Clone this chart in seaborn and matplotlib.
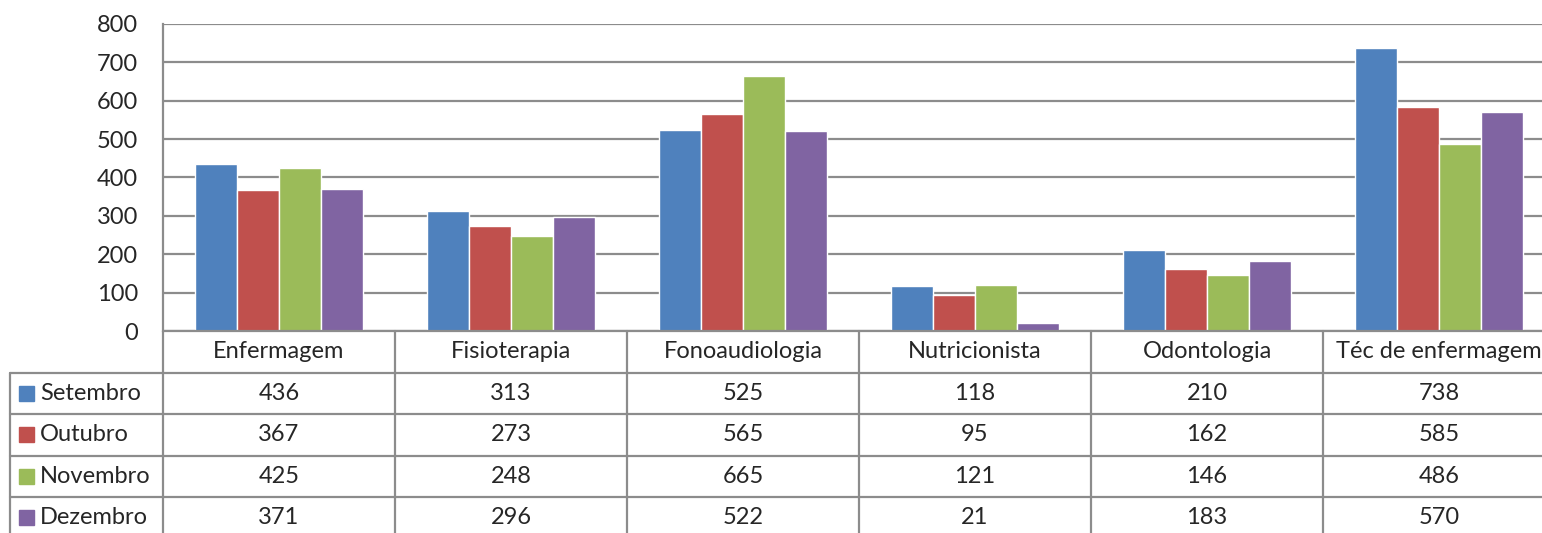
import matplotlib.pyplot as plt
import numpy as np
import pandas as pd
import seaborn as sns

# Data
categories = ["Enfermagem", "Fisioterapia", "Fonoaudiologia", "Nutricionista", "Odontologia", "Téc de enfermagem"]
months = ["Setembro", "Outubro", "Novembro", "Dezembro"]
setembro = [436, 313, 525, 118, 210, 738]
outubro = [367, 273, 565, 95, 162, 585]
novembro = [425, 248, 665, 121, 146, 486]
dezembro = [371, 296, 522, 21, 183, 570]
colors = ["#4F81BD", "#C0504D", "#9BBB59", "#8064A2"]

series = [setembro, outubro, novembro, dezembro]
df = pd.DataFrame([
    {"Categoria": c, "Mês": m, "Valor": v}
    for m, vals in zip(months, series)
    for c, v in zip(categories, vals)
])

sns.set_style("white")
plt.rcParams["font.family"] = ["Lato", "DejaVu Sans"]
grid_col = "#8C8C8C"
fs = 17

W, H = 1542, 533
fig = plt.figure(figsize=(W / 100, H / 100), dpi=100)

# pixel geometry
x_left, x_right = 163, 1555
y_top, y_zero = 24, 331
row_h = 41.5
lab_left = 10

ax = fig.add_axes([x_left / W, (H - y_zero) / H, (x_right - x_left) / W, (y_zero - y_top) / H])
sns.barplot(data=df, x="Categoria", y="Valor", hue="Mês", palette=colors,
            width=0.724, gap=0, saturation=1, ax=ax, legend=False)
ax.set_ylim(0, 800)
ax.set_xlim(-0.5, 5.5)
ax.set_yticks(range(0, 801, 100))
ax.yaxis.grid(True, color=grid_col, lw=1.6)
ax.set_axisbelow(True)
ax.set_xlabel("")
ax.set_ylabel("")
ax.set_xticks([])
ax.tick_params(axis="y", length=0, pad=18, labelsize=fs)
for s in ["top", "right", "bottom"]:
    ax.spines[s].set_visible(False)
ax.spines["left"].set_color(grid_col)
ax.spines["left"].set_linewidth(1.6)

# Data table below
lab_w = (x_left - lab_left) / ((x_right - x_left) / 6)
tax = fig.add_axes([lab_left / W, (H - (y_zero + 5 * row_h)) / H,
                    (x_right - lab_left) / W, 5 * row_h / H])
tax.set_xlim(-0.5 - lab_w, 5.5)
tax.set_ylim(5, 0)
tax.axis("off")
x0 = -0.5 - lab_w
# horizontal lines
tax.plot([-0.5, 5.5], [0, 0], color=grid_col, lw=1.6, clip_on=False)
for r in range(1, 5):
    tax.plot([x0, 5.5], [r, r], color=grid_col, lw=1.6, clip_on=False)
# vertical lines
tax.plot([x0, x0], [1, 5], color=grid_col, lw=1.6, clip_on=False)
for i in range(6):
    tax.plot([i - 0.5, i - 0.5], [0, 5], color=grid_col, lw=1.6, clip_on=False)

for i, c in enumerate(categories):
    tax.text(i, 0.5, c, ha="center", va="center", fontsize=fs)
for r, (m, vals, col) in enumerate(zip(months, series, colors)):
    y = r + 1.5
    tax.add_patch(plt.Rectangle((x0 + 0.04, y - 0.18), 0.065, 0.36, color=col, clip_on=False))
    tax.text(x0 + 0.13, y, m, ha="left", va="center", fontsize=fs)
    for i, v in enumerate(vals):
        tax.text(i, y, str(v), ha="center", va="center", fontsize=fs)

fig.savefig("out.png", dpi=100)
